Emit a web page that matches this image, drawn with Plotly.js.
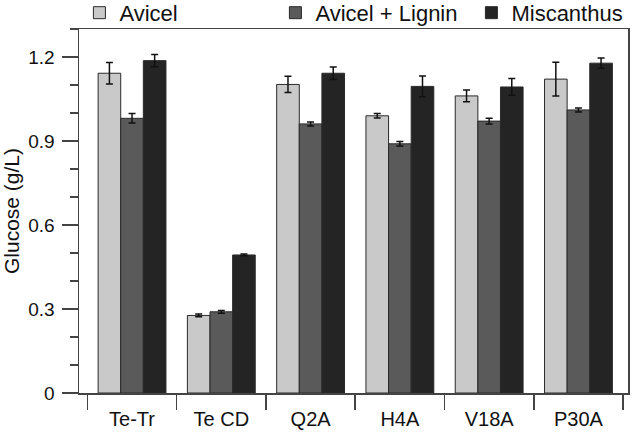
<!DOCTYPE html>
<html>
<head>
<meta charset="utf-8">
<script src="https://cdn.plot.ly/plotly-3.0.1.min.js"></script>
<style>html,body{margin:0;padding:0;background:#fff;}#chart{width:633px;height:432px;}</style>
</head>
<body>
<div id="chart"></div>
<script>
var categories = ["Te-Tr", "Te CD", "Q2A", "H4A", "V18A", "P30A"];
var seriesNames = ["Avicel", "Avicel + Lignin", "Miscanthus"];
var avicel = [1.142, 0.277, 1.102, 0.990, 1.061, 1.121];
var avicelErr = [0.038, 0.005, 0.029, 0.008, 0.021, 0.060];
var lignin = [0.981, 0.290, 0.961, 0.890, 0.971, 1.011];
var ligninErr = [0.017, 0.005, 0.007, 0.008, 0.010, 0.007];
var miscanthus = [1.187, 0.493, 1.142, 1.095, 1.093, 1.178];
var miscanthusErr = [0.022, 0.003, 0.022, 0.037, 0.030, 0.018];
var yTickVals = [0, 0.3, 0.6, 0.9, 1.2];
var yTickText = ["0", "0.3", "0.6", "0.9", "1.2"];

var colors = ["#c9c9c9", "#5a5a5a", "#242424"];
var values = [avicel, lignin, miscanthus];
var errs = [avicelErr, ligninErr, miscanthusErr];

var traces = values.map(function (v, i) {
  return {
    type: "bar",
    name: seriesNames[i],
    x: categories,
    y: v,
    marker: { color: colors[i], line: { color: "#2a2a2a", width: 1 } },
    error_y: { type: "data", array: errs[i], visible: true, color: "#111", thickness: 1.5, width: 3.5 }
  };
});

var layout = {
  width: 633,
  height: 432,
  margin: { l: 79, r: 5, t: 29, b: 39, autoexpand: false },
  paper_bgcolor: "#fff",
  plot_bgcolor: "#fff",
  font: { family: "Liberation Sans, Arial, sans-serif", color: "#111", size: 19 },
  barmode: "group",
  bargap: 0.24,
  bargroupgap: 0,
  showlegend: true,
  legend: {
    orientation: "h",
    x: -0.012, xanchor: "left",
    y: 1.102, yanchor: "top",
    indentation: 7,
    entrywidth: 144, entrywidthmode: "pixels",
    font: { size: 22, color: "#111" },
    bgcolor: "rgba(0,0,0,0)"
  },
  xaxis: {
    type: "category",
    range: [-0.594, 5.555],
    showline: true, linecolor: "#444", linewidth: 1.5, mirror: true,
    ticks: "outside", tickson: "boundaries", ticklen: 15, tickcolor: "#444", tickwidth: 1.5,
    ticklabelstandoff: 7,
    tickfont: { size: 20, color: "#111" },
    showgrid: false, zeroline: false
  },
  yaxis: {
    range: [0, 1.3],
    tickvals: yTickVals, ticktext: yTickText,
    showline: true, linecolor: "#444", linewidth: 1.5, mirror: true,
    ticks: "outside", ticklen: 16, tickcolor: "#444", tickwidth: 1.5,
    ticklabelstandoff: 3,
    minor: { dtick: 0.1, ticks: "outside", ticklen: 8, tickcolor: "#444", tickwidth: 1.2, showgrid: false },
    tickfont: { size: 19, color: "#111" },
    showgrid: false, zeroline: false,
    title: { text: "Glucose (g/L)", font: { size: 21, color: "#111" }, standoff: 8 }
  }
};

Plotly.newPlot("chart", traces, layout, { displayModeBar: false, staticPlot: true });
</script>
</body>
</html>
